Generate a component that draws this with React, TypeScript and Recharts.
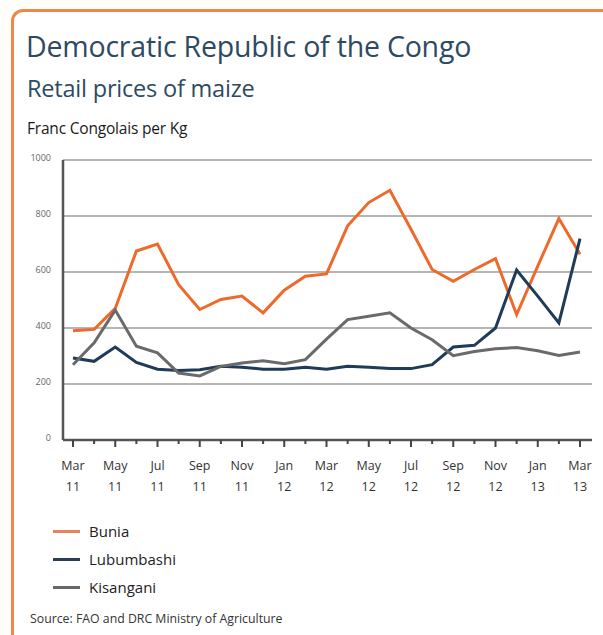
import { CartesianGrid, Line, LineChart, XAxis, YAxis } from 'recharts';

const months = [
  'Mar 11', 'Apr 11', 'May 11', 'Jun 11', 'Jul 11', 'Aug 11', 'Sep 11', 'Oct 11', 'Nov 11', 'Dec 11',
  'Jan 12', 'Feb 12', 'Mar 12', 'Apr 12', 'May 12', 'Jun 12', 'Jul 12', 'Aug 12', 'Sep 12', 'Oct 12',
  'Nov 12', 'Dec 12', 'Jan 13', 'Feb 13', 'Mar 13',
];

const bunia = [390, 395, 470, 675, 700, 555, 466, 502, 514, 454, 535, 585, 593, 765, 848, 892, 753, 609, 567, 609, 648, 448, 621, 791, 663];
const lubumbashi = [293, 281, 332, 277, 253, 248, 251, 263, 260, 253, 253, 260, 253, 263, 260, 255, 255, 269, 332, 338, 400, 607, 514, 418, 719];
const kisangani = [269, 347, 464, 335, 311, 239, 229, 263, 275, 283, 272, 287, 360, 430, 442, 454, 400, 358, 301, 316, 326, 330, 319, 302, 314];

const yTicks = [0, 200, 400, 600, 800, 1000];

const series = [
  { key: 'bunia', name: 'Bunia', color: '#ee6a2b', legendColor: '#e5835a' },
  { key: 'lubumbashi', name: 'Lubumbashi', color: '#1f3b57', legendColor: '#2b3e52' },
  { key: 'kisangani', name: 'Kisangani', color: '#6a6a6a', legendColor: '#666666' },
];

const data = months.map((m, i) => ({
  month: m,
  bunia: bunia[i],
  lubumbashi: lubumbashi[i],
  kisangani: kisangani[i],
}));

const FONT = '"Open Sans", "Noto Sans", sans-serif';

// x tick: long tick + two-line label on every other month, short tick otherwise
function MonthTick(props: any) {
  const { x, y, payload, index } = props;
  const major = index % 2 === 0;
  const [mon, yr] = String(payload.value).split(' ');
  return (
    <g>
      <line x1={x} x2={x} y1={y} y2={y + (major ? 7 : 4)} stroke="#444" strokeWidth={2} />
      {major && (
        <text x={x} y={y + 17} textAnchor="middle" fontSize={12.5} fill="#333" fontFamily={FONT}>
          <tspan x={x} dy="1em">{mon}</tspan>
          <tspan x={x} dy="1.75em">{yr}</tspan>
        </text>
      )}
    </g>
  );
}

function LegendList() {
  return (
    <div style={{ position: 'absolute', left: 53, top: 517, fontFamily: FONT, fontSize: 15, color: '#222' }}>
      {series.map((s) => (
        <div key={s.key} style={{ display: 'flex', alignItems: 'center', height: 28 }}>
          <span style={{ display: 'inline-block', width: 27, height: 3, background: s.legendColor, marginRight: 9 }} />
          {s.name}
        </div>
      ))}
    </div>
  );
}

export default function App() {
  return (
    <div style={{ position: 'absolute', left: 0, top: 0, width: 603, height: 635, background: '#fffef9', overflow: 'hidden' }}>
      <div
        style={{
          position: 'absolute',
          left: 11,
          top: 9,
          width: 620,
          height: 660,
          borderTop: '3px solid #f0874a',
          borderLeft: '3px solid #f0874a',
          borderTopLeftRadius: 12,
          background: '#ffffff',
        }}
      />
      <div style={{ position: 'absolute', left: 26, top: 27, fontFamily: FONT, fontSize: 28.5, color: '#2d4a62', letterSpacing: -0.2, whiteSpace: 'nowrap' }}>
        Democratic Republic of the Congo
      </div>
      <div style={{ position: 'absolute', left: 27, top: 72, fontFamily: FONT, fontSize: 23.5, color: '#2d4a62', letterSpacing: -0.2, whiteSpace: 'nowrap' }}>
        Retail prices of maize
      </div>
      <div style={{ position: 'absolute', left: 27, top: 117, fontFamily: FONT, fontSize: 15.5, color: '#1a1a1a', letterSpacing: -0.2, whiteSpace: 'nowrap' }}>
        Franc Congolais per Kg
      </div>
      <div style={{ position: 'absolute', left: 0, top: 0 }}>
        <LineChart width={603} height={500} data={data} margin={{ top: 160, right: 11, left: 0, bottom: 10 }}>
          <CartesianGrid horizontal vertical={false} stroke="#b5b5b5" strokeWidth={2.2} />
          <XAxis
            dataKey="month"
            interval={0}
            tick={<MonthTick />}
            tickLine={false}
            tickSize={0}
            tickMargin={0}
            axisLine={{ stroke: '#555', strokeWidth: 2.5 }}
            padding={{ left: 10, right: 12 }}
            height={50}
          />
          <YAxis
            domain={[0, 1000]}
            ticks={yTicks}
            width={63}
            tickLine={false}
            axisLine={{ stroke: '#555', strokeWidth: 2.5 }}
            tick={{ fontSize: 9, fill: '#666', fontFamily: FONT, dy: -2 }}
            tickMargin={6}
          />
          {series.map((s) => (
            <Line
              key={s.key}
              type="linear"
              dataKey={s.key}
              name={s.name}
              stroke={s.color}
              strokeWidth={3}
              dot={false}
              isAnimationActive={false}
            />
          ))}
        </LineChart>
      </div>
      <LegendList />
      <div style={{ position: 'absolute', left: 30, top: 610, fontFamily: FONT, fontSize: 12.3, color: '#333', whiteSpace: 'nowrap' }}>
        Source: FAO and DRC Ministry of Agriculture
      </div>
    </div>
  );
}
